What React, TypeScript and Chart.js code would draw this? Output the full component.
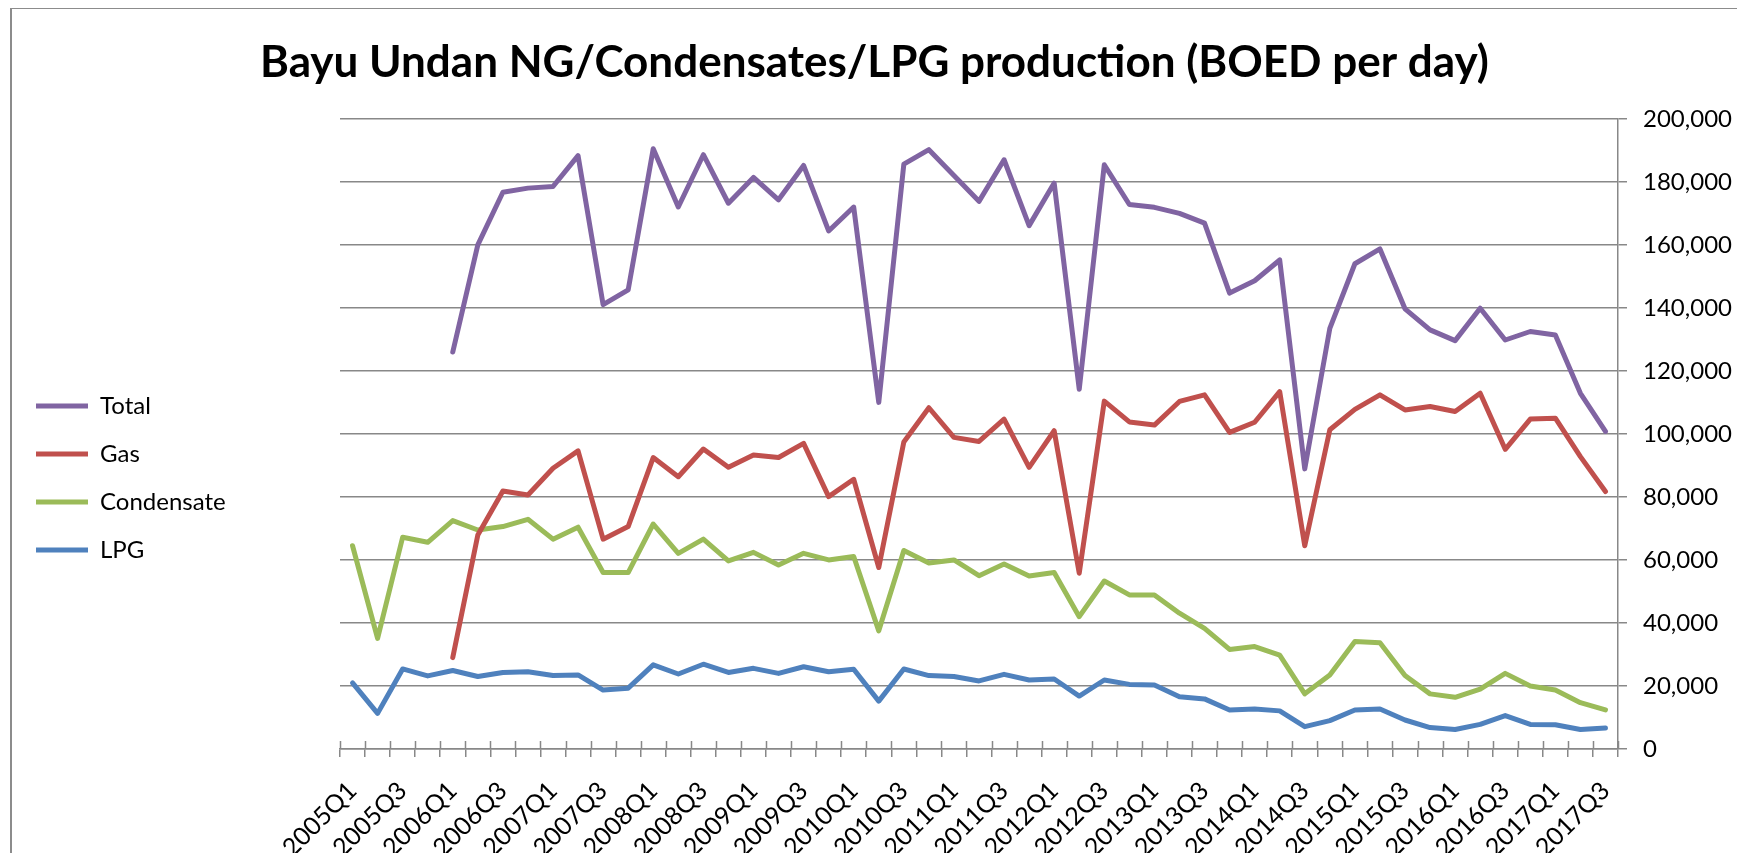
import React, { useEffect, useRef } from "react";
import { Chart, registerables } from "chart.js";

Chart.register(...registerables);

const quarters = [
  "2005Q1", "2005Q2", "2005Q3", "2005Q4",
  "2006Q1", "2006Q2", "2006Q3", "2006Q4",
  "2007Q1", "2007Q2", "2007Q3", "2007Q4",
  "2008Q1", "2008Q2", "2008Q3", "2008Q4",
  "2009Q1", "2009Q2", "2009Q3", "2009Q4",
  "2010Q1", "2010Q2", "2010Q3", "2010Q4",
  "2011Q1", "2011Q2", "2011Q3", "2011Q4",
  "2012Q1", "2012Q2", "2012Q3", "2012Q4",
  "2013Q1", "2013Q2", "2013Q3", "2013Q4",
  "2014Q1", "2014Q2", "2014Q3", "2014Q4",
  "2015Q1", "2015Q2", "2015Q3", "2015Q4",
  "2016Q1", "2016Q2", "2016Q3", "2016Q4",
  "2017Q1", "2017Q2", "2017Q3",
];

const totalBoed = [
  null, null, null, null,
  126000, 160000, 176700, 178000,
  178500, 188300, 141000, 145700,
  190500, 172000, 188600, 173200,
  181400, 174300, 185200, 164400,
  172000, 110000, 185600, 190200,
  182000, 173800, 187000, 166100,
  179600, 114200, 185400, 172800,
  171900, 170000, 166900, 144700,
  148600, 155200, 88900, 133500,
  154000, 158700, 139700, 133000,
  129600, 139900, 129800, 132500,
  131400, 112900, 100800,
];

const gasBoed = [
  null, null, null, null,
  29000, 67900, 81900, 80600,
  89100, 94600, 66600, 70600,
  92500, 86400, 95200, 89400,
  93300, 92500, 97000, 80100,
  85600, 57600, 97400, 108300,
  98900, 97600, 104700, 89400,
  101000, 55800, 110400, 103800,
  102800, 110300, 112400, 100500,
  103700, 113400, 64500, 101300,
  107800, 112400, 107600, 108700,
  107100, 112900, 95100, 104700,
  105000, 92800, 81700,
];

const condensateBoed = [
  64500, 35100, 67200, 65600,
  72500, 69500, 70600, 72900,
  66600, 70400, 56000, 56000,
  71400, 62100, 66600, 59700,
  62400, 58400, 62100, 60000,
  61100, 37500, 63000, 59000,
  60000, 55000, 58700, 54900,
  56000, 42000, 53300, 48900,
  48900, 43100, 38300, 31600,
  32500, 29800, 17500, 23500,
  34100, 33700, 23300, 17500,
  16400, 19000, 24000, 20000,
  18700, 14700, 12400,
];

const lpgBoed = [
  21000, 11300, 25400, 23200,
  24900, 23000, 24300, 24500,
  23300, 23500, 18700, 19300,
  26700, 23800, 26900, 24300,
  25600, 24000, 26100, 24500,
  25300, 15200, 25400, 23300,
  23000, 21600, 23700, 21900,
  22200, 16800, 21900, 20500,
  20300, 16600, 15900, 12400,
  12700, 12100, 7100, 9000,
  12400, 12700, 9200, 6800,
  6200, 7800, 10600, 7800,
  7700, 6200, 6700,
];

const seriesNames = ["Total", "Gas", "Condensate", "LPG"];
const seriesColors = ["#8064A2", "#C0504D", "#9BBB59", "#4F81BD"];

const yMin = 0;
const yMax = 200000;
const yStep = 20000;

const chartTitle = "Bayu Undan NG/Condensates/LPG production (BOED per day)";

// layout (canvas pixels)
const W = 1725;
const H = 852;
const AREA_LEFT = 328;
const AREA_RIGHT = 1606;
const AREA_BOTTOM = 740;
const PAD_LEFT = 0;
const LEGEND_TOP = 361;
const GRID = "#888888";
const FONT = "Lato, 'Open Sans', sans-serif";

export default function App() {
  const ref = useRef<HTMLCanvasElement | null>(null);

  useEffect(() => {
    if (!ref.current) return;

    const legendFix = {
      id: "legendFix",
      beforeLayout(chart: any) {
        const lg = chart.legend;
        if (lg && !lg.__patched) {
          const orig = lg.fit.bind(lg);
          lg.fit = function () {
            orig();
            this.width = AREA_LEFT - PAD_LEFT;
          };
          lg.__patched = true;
        }
      },
      beforeDraw(chart: any) {
        const lg = chart.legend;
        if (lg) {
          lg.top = LEGEND_TOP;
          lg.bottom = LEGEND_TOP + 400;
        }
      },
    };

    const crossTicks = {
      id: "crossTicks",
      afterDatasetsDraw(chart: any) {
        const xs = chart.scales.x;
        const ctx = chart.ctx;
        const n = quarters.length;
        const step = xs.getPixelForTick(1) - xs.getPixelForTick(0);
        ctx.save();
        ctx.strokeStyle = GRID;
        ctx.lineWidth = 1.5;
        ctx.beginPath();
        for (let i = 0; i <= n; i++) {
          const px = Math.round(xs.getPixelForTick(0) - step / 2 + i * step) + 0.5;
          ctx.moveTo(px, xs.top - 8);
          ctx.lineTo(px, xs.top);
        }
        ctx.stroke();
        ctx.restore();
      },
    };

    const mk = (i: number, data: (number | null)[]) => ({
      label: seriesNames[i],
      data,
      borderColor: seriesColors[i],
      backgroundColor: seriesColors[i],
      borderWidth: 5,
      pointRadius: 0,
      pointHoverRadius: 0,
      tension: 0,
      spanGaps: false,
      borderJoinStyle: "round" as const,
      borderCapStyle: "round" as const,
    });

    const chart = new Chart(ref.current, {
      type: "line",
      data: {
        labels: quarters,
        datasets: [
          mk(0, totalBoed),
          mk(1, gasBoed),
          mk(2, condensateBoed),
          mk(3, lpgBoed),
        ],
      },
      options: {
        responsive: false,
        animation: false,
        layout: { padding: { left: PAD_LEFT, right: 0, top: 0, bottom: 0 } },
        plugins: {
          title: {
            display: true,
            text: chartTitle,
            color: "#000",
            font: { family: FONT, size: 44, weight: "bold" },
            padding: { top: 27, bottom: 30 },
          },
          legend: {
            display: true,
            position: "left",
            align: "start",
            labels: {
              color: "#000",
              font: { family: FONT, size: 24 },
              usePointStyle: true,
              pointStyle: "line",
              pointStyleWidth: 52,
              boxWidth: 52,
              boxHeight: 24,
              padding: 24,
            },
          },
          tooltip: { enabled: false },
        },
        scales: {
          x: {
            type: "category",
            offset: true,
            afterFit(scale: any) {
              scale.height = H - AREA_BOTTOM;
            },
            grid: {
              display: true,
              drawOnChartArea: false,
              drawTicks: true,
              tickLength: 8,
              offset: true,
              color: GRID,
              lineWidth: 1.5,
            },
            border: { display: true, color: GRID, width: 1.5 },
            ticks: {
              autoSkip: false,
              maxRotation: 45,
              minRotation: 45,
              color: "#000",
              font: { family: FONT, size: 25 },
              padding: 19,
              callback: (_v: any, idx: number) => (idx % 2 === 0 ? quarters[idx] : ""),
            },
          },
          y: {
            position: "right",
            min: yMin,
            max: yMax,
            afterFit(scale: any) {
              scale.width = W - AREA_RIGHT;
            },
            grid: {
              display: true,
              color: GRID,
              lineWidth: 1.5,
              drawTicks: true,
              tickLength: 9,
            },
            border: { display: true, color: GRID, width: 1.5 },
            ticks: {
              stepSize: yStep,
              color: "#000",
              font: { family: FONT, size: 24 },
              padding: 16,
              callback: (v: any) => Number(v).toLocaleString("en-US"),
            },
          },
        },
      },
      plugins: [legendFix, crossTicks],
    });

    return () => chart.destroy();
  }, []);

  return (
    <div
      style={{
        width: W,
        height: H,
        marginLeft: 2,
        marginTop: -1,
        marginBottom: -8,
        borderLeft: "2px solid #8c8c8c",
        borderTop: "2px solid #8c8c8c",
        background: "#fff",
      }}
    >
      <canvas ref={ref} width={W} height={H} style={{ display: "block" }} />
    </div>
  );
}
